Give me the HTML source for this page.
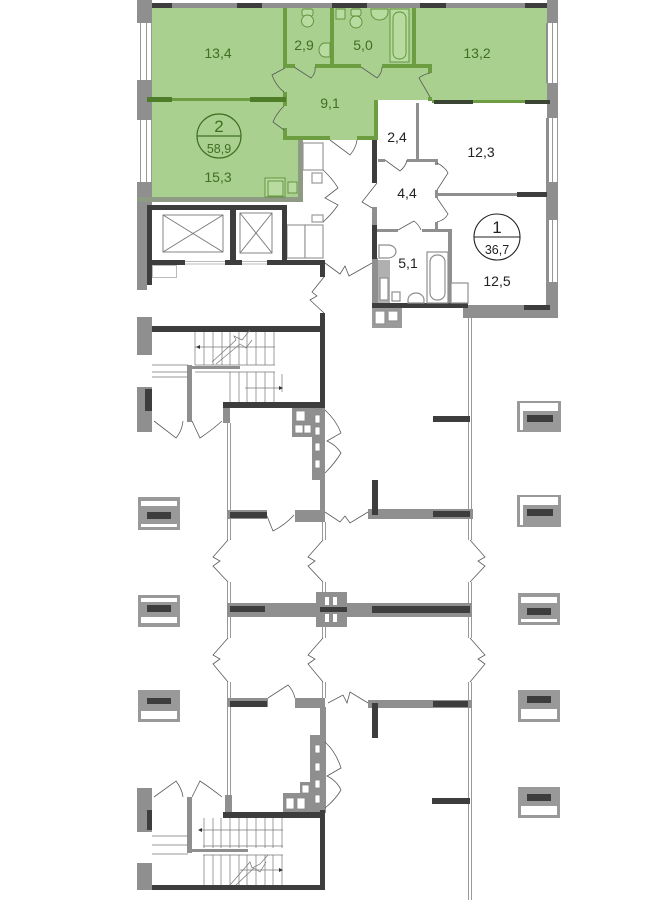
<!DOCTYPE html>
<html><head><meta charset="utf-8">
<style>
html,body{margin:0;padding:0;background:#fff;}
svg{display:block;}
text{font-family:"Liberation Sans",Arial,sans-serif;}
</style></head><body>
<svg width="672" height="907" viewBox="0 0 672 907" xmlns="http://www.w3.org/2000/svg">
<rect width="672" height="907" fill="#fff"/>

<!-- ===== Apartment 2 green fill ===== -->
<path fill="#a9d08e" d="M152 8 H547 V100 H378 V140 H298 V197 H152 Z"/>

<!-- top outer wall -->
<rect x="137" y="3" width="416" height="5" fill="#8f8f8f"/>
<g fill="#3d3d3d">
<rect x="147" y="3" width="25" height="5"/><rect x="237" y="3" width="25" height="5"/>
<rect x="332" y="3" width="35" height="5"/><rect x="420" y="3" width="26" height="5"/>
<rect x="525" y="3" width="26" height="5"/>
</g>

<!-- left outer wall apt2 -->
<g fill="#8f8f8f">
<rect x="137" y="0" width="15" height="23"/>
<rect x="137" y="80" width="15" height="40"/>
<rect x="137" y="182" width="15" height="25"/>
<rect x="137" y="205" width="10" height="85"/>
</g>
<g stroke="#999" stroke-width="1">
<line x1="140.5" y1="23" x2="140.5" y2="80"/><line x1="146.5" y1="23" x2="146.5" y2="80"/>
<line x1="140.5" y1="120" x2="140.5" y2="182"/><line x1="146.5" y1="120" x2="146.5" y2="182"/>
<line x1="151.5" y1="23" x2="151.5" y2="80"/><line x1="151.5" y1="120" x2="151.5" y2="182"/>
</g>

<!-- right outer wall -->
<g fill="#8f8f8f">
<rect x="547" y="0" width="11" height="23"/>
<rect x="547" y="83" width="11" height="35"/>
<rect x="546" y="182" width="12" height="38"/>
<rect x="546" y="282" width="12" height="36"/>
<rect x="546" y="118" width="3" height="64"/>
<rect x="546" y="220" width="3" height="62"/>
<rect x="546" y="23" width="2" height="60"/>
</g>
<g stroke="#999" stroke-width="1">
<line x1="552.5" y1="23" x2="552.5" y2="83"/><line x1="557.5" y1="23" x2="557.5" y2="83"/>
<line x1="552.5" y1="118" x2="552.5" y2="182"/><line x1="557.5" y1="118" x2="557.5" y2="182"/>
<line x1="552.5" y1="220" x2="552.5" y2="282"/><line x1="557.5" y1="220" x2="557.5" y2="282"/>
</g>

<!-- green interior walls -->
<g fill="#6c9d41">
<rect x="152" y="98" width="131" height="3"/>
<rect x="283" y="8" width="4" height="58"/>
<rect x="330" y="8" width="4" height="57"/>
<rect x="412" y="8" width="4" height="57"/>
<rect x="283" y="64" width="12" height="4"/><rect x="315" y="64" width="46" height="4"/><rect x="382" y="64" width="50" height="4"/>
<rect x="428" y="64" width="4" height="9"/><rect x="428" y="97" width="4" height="4"/>
<rect x="432" y="100" width="115" height="3"/>
<rect x="283" y="66" width="4" height="2"/><rect x="283" y="92" width="4" height="14"/><rect x="283" y="128" width="4" height="12"/>
<rect x="283" y="136" width="47" height="4"/><rect x="357" y="136" width="21" height="4"/>
<rect x="374" y="100" width="4" height="40"/>
</g>
<g fill="#4d7d28">
<rect x="147" y="97" width="25" height="5"/><rect x="250" y="97" width="36" height="5"/>
</g>
<g fill="#3a4633">
<rect x="434" y="100" width="39" height="4"/><rect x="525" y="100" width="25" height="4"/>
</g>
<!-- 15.3 right wall & bottom -->
<rect x="298" y="140" width="5" height="62" fill="#8f9a85"/>
<rect x="137" y="197" width="166" height="5" fill="#8f9a85"/>

<!-- fixtures apt2 -->
<g fill="#b8db9f" stroke="#5f8e3a" stroke-width="0.9">
<rect x="302" y="9" width="11" height="7" rx="2"/><ellipse cx="307.5" cy="21" rx="6" ry="6"/>
<path d="M330 43 h-5 a6 7 0 0 0 0 14 h5 z"/>
<rect x="336" y="9" width="9" height="10"/>
<rect x="351" y="9" width="10" height="7" rx="2"/><ellipse cx="356" cy="22" rx="6" ry="6"/>
<path d="M371 9 h17 v3 a8.5 8 0 0 1 -17 0 z"/>
<rect x="390" y="9" width="19" height="53"/><rect x="393" y="12" width="13" height="47" rx="6"/>
<rect x="265" y="178" width="20" height="19"/><rect x="268" y="181" width="15" height="15"/>
<rect x="288" y="182" width="9" height="11"/>
</g>

<!-- circle 2 -->
<g fill="none" stroke="#3f6f22" stroke-width="1.2">
<circle cx="219" cy="136" r="22"/><line x1="197" y1="136" x2="241" y2="136"/>
</g>

<!-- doors apt2 -->
<g fill="none" stroke="#5a5a5a" stroke-width="0.8">
<path d="M294 67 L311 78 Q316 73 315 67"/>
<path d="M361 67 L377 78 Q382 73 382 67"/>
<path d="M285 68 L272 75 Q276 86 284 92"/>
<path d="M284 106 Q276 114 273 122 L284 130"/>
<path d="M430 73 Q422 75 419 78 L430 97"/>
<path d="M330 140 L350 155 Q356 148 357 140"/>
</g>

<!-- ===== Apartment 1 ===== -->
<g fill="#8f8f8f">
<rect x="416" y="103" width="3" height="59"/>
<rect x="378" y="159" width="7" height="3"/><rect x="407" y="159" width="31" height="3"/>
<rect x="435" y="159" width="3" height="6"/><rect x="435" y="190" width="3" height="8"/><rect x="435" y="222" width="3" height="10"/>
<rect x="437" y="193" width="110" height="3"/>
<rect x="372" y="207" width="5" height="20"/>
<rect x="377" y="229" width="21" height="3"/><rect x="422" y="229" width="30" height="3"/>
<rect x="448" y="229" width="4" height="76"/>
<rect x="463" y="305" width="89" height="13"/>
<rect x="372" y="258" width="6" height="47"/>
</g>
<g fill="#3d3d3d">
<rect x="517" y="192" width="30" height="5"/>
<rect x="372" y="140" width="5" height="43"/>
<rect x="372" y="225" width="5" height="34"/>
<rect x="372" y="303" width="96" height="5"/>
<rect x="524" y="305" width="26" height="5"/>
</g>
<!-- bathroom 5.1 fixtures -->
<g fill="#fff" stroke="#8f8f8f" stroke-width="1.2">
<rect x="378" y="260" width="12" height="43" fill="#b0b0b0" stroke="none"/>
<rect x="380" y="278" width="8" height="22"/>
<rect x="392" y="292" width="8" height="9"/>
<path d="M379 245 h9 a8 6.5 0 0 1 0 13 h-9 z"/>
<rect x="427" y="252" width="21" height="51"/><rect x="430" y="255" width="15" height="45" rx="7"/>
<path d="M408 303 v-3 a8 7 0 0 1 16 0 v3 z"/>
<rect x="451" y="283" width="17" height="20"/>
<rect x="372" y="308" width="30" height="20" fill="#9a9a9a" stroke="none"/>
<rect x="375" y="311" width="10" height="13"/><rect x="388" y="311" width="10" height="10"/>
</g>
<!-- circle 1 -->
<g fill="none" stroke="#222" stroke-width="1.1">
<circle cx="497" cy="237" r="23"/><line x1="474" y1="237" x2="520" y2="237"/>
</g>
<!-- doors apt1 -->
<g fill="none" stroke="#5a5a5a" stroke-width="0.8">
<path d="M385 160 L400 171 Q406 166 407 160"/>
<path d="M437 163 Q445 167 448 173 L437 190"/>
<path d="M437 198 L448 214 Q445 220 437 222"/>
<path d="M377 183 L362 202 L372 208"/>
<path d="M398 230 L414 221 Q419 225 421 230"/>
</g>

<!-- ===== corridor upper ===== -->
<g fill="#fff" stroke="#999" stroke-width="1.2">
<rect x="303" y="143" width="20" height="27"/>
<rect x="312" y="173" width="10" height="10"/>
<rect x="312" y="215" width="11" height="7"/>
<rect x="287" y="225" width="18" height="33"/><rect x="305" y="225" width="18" height="33"/>
</g>
<!-- elevators -->
<g fill="#3d3d3d">
<rect x="147" y="205" width="140" height="5"/>
<rect x="147" y="205" width="5" height="80"/>
<rect x="230" y="205" width="6" height="60"/>
<rect x="282" y="205" width="5" height="60"/>
<rect x="147" y="260" width="38" height="5"/>
<rect x="225" y="260" width="17" height="5"/>
<rect x="267" y="260" width="58" height="5"/>
<rect x="320" y="260" width="5" height="17"/>
<rect x="320" y="313" width="5" height="17"/>
</g>
<g stroke="#bbb" stroke-width="1" fill="none">
<line x1="185" y1="261.5" x2="225" y2="261.5"/><line x1="185" y1="264" x2="225" y2="264"/>
<line x1="242" y1="261.5" x2="267" y2="261.5"/><line x1="242" y1="264" x2="267" y2="264"/>
<rect x="152.5" y="265.5" width="24" height="12"/>
</g>
<g fill="none" stroke="#777" stroke-width="0.9">
<rect x="163" y="215" width="60" height="37"/><path d="M163 215 L223 252 M223 215 L163 252"/>
<rect x="240" y="213" width="32" height="40"/><path d="M240 213 L272 253 M272 213 L240 253"/>
</g>
<g fill="none" stroke="#5a5a5a" stroke-width="0.8">
<path d="M323 170 Q332 178 338 188 L325 198 L338 205 Q332 214 323 222"/>
<path d="M325 263 L340 274 L345 266 L349 276 L372 263"/>
<path d="M324 277 L312 292 L317 296 L310 300 L324 313"/>
</g>

<!-- ===== stair block upper ===== -->
<g fill="#8f8f8f">
<rect x="137" y="317" width="15" height="38"/>
<rect x="137" y="387" width="15" height="45"/>
<rect x="187" y="365" width="5" height="57"/>
<rect x="188" y="366" width="52" height="3"/>
<rect x="223" y="403" width="7" height="20"/>
<rect x="292" y="408" width="20" height="29"/>
<rect x="312" y="408" width="13" height="72"/>
<rect x="320" y="480" width="5" height="35"/>
</g>
<g fill="#3d3d3d">
<rect x="152" y="326" width="173" height="6"/>
<rect x="320" y="315" width="5" height="93"/>
<rect x="223" y="402" width="102" height="6"/>
<rect x="145" y="389" width="7" height="22"/>
</g>
<g fill="#fff" stroke="#888" stroke-width="0.8">
<rect x="296" y="411" width="9" height="10"/>
<rect x="295" y="425" width="8" height="8"/><rect x="304" y="425" width="7" height="8"/>
<rect x="315" y="415" width="5" height="8"/><rect x="315" y="427" width="5" height="8"/>
<rect x="315" y="443" width="5" height="8"/><rect x="315" y="460" width="5" height="8"/>
</g>
<g stroke="#777" stroke-width="0.7" fill="none">
<path d="M195 332 V365 M204 332 V365 M213 332 V365 M222 332 V365 M230 332 V365 M239 332 V365 M247 332 V365 M256 332 V365 M265 332 V365 M274 332 V365"/>
<path d="M230 372 V402 M239 372 V402 M247 372 V402 M256 372 V402 M265 372 V402 M274 372 V402 M282 374 V392"/>
<path d="M195 347 H275 M195 365 H275 M195 372 H275"/>
<path d="M212 362 L236 340 L234 336 L242 340 L250 330 M216 364 L240 344 L246 348 L252 340"/>
<path d="M245 388 H280"/>
<path d="M152 365 H188 M152 372 H188 M152 377 H188"/>
</g>
<path d="M196 347 l4 -2 v4 z M283 388 l-4 -2 v4 z" fill="#333"/>
<g fill="none" stroke="#5a5a5a" stroke-width="0.8">
<path d="M154 421 L176 438 Q182 431 183 421"/>
<path d="M192 421 L200 438 Q212 430 222 421"/>
<path d="M325 410 Q336 420 341 433 L327 441 Q336 445 341 453 Q335 463 325 473"/>
</g>

<!-- ===== vertical double lines ===== -->
<g stroke="#999" stroke-width="1" fill="none">
<path d="M227.5 423 V540 M230.5 423 V540 M227.5 582 V638 M230.5 582 V638 M227.5 682 V812 M230.5 682 V812"/>
<path d="M322.5 522 V540 M325.5 522 V540 M322.5 582 V592 M325.5 582 V592 M322.5 627 V638 M325.5 627 V638 M322.5 682 V698 M325.5 682 V698"/>
<path d="M468.5 318 V540 M471.5 318 V540 M468.5 582 V638 M471.5 582 V638 M468.5 682 V900 M471.5 682 V900"/>
</g>

<!-- middle walls -->
<g fill="#8f8f8f">
<rect x="227" y="510" width="40" height="9"/>
<rect x="295" y="510" width="30" height="12"/>
<rect x="368" y="509" width="105" height="10"/>
<rect x="227" y="603" width="245" height="14"/>
<rect x="316" y="592" width="31" height="35"/>
<rect x="227" y="698" width="41" height="9"/>
<rect x="295" y="698" width="30" height="10"/>
<rect x="368" y="700" width="104" height="8"/>
<rect x="320" y="707" width="6" height="30"/>
<rect x="310" y="735" width="16" height="78"/>
<rect x="283" y="793" width="29" height="20"/>
<rect x="300" y="782" width="12" height="12"/>
<rect x="225" y="795" width="7" height="20"/>
</g>
<g fill="#3d3d3d">
<rect x="433" y="416" width="37" height="6"/>
<rect x="372" y="480" width="6" height="35"/>
<rect x="433" y="511" width="37" height="6"/>
<rect x="230" y="512" width="37" height="6"/>
<rect x="230" y="606" width="35" height="6"/>
<rect x="320" y="607" width="27" height="5"/>
<rect x="372" y="606" width="98" height="7"/>
<rect x="230" y="701" width="37" height="6"/>
<rect x="433" y="701" width="35" height="6"/>
<rect x="372" y="703" width="6" height="35"/>
<rect x="432" y="798" width="38" height="6"/>
</g>
<g fill="#fff">
<rect x="325" y="597" width="4" height="8"/><rect x="333" y="597" width="4" height="8"/>
<rect x="325" y="614" width="4" height="8"/><rect x="333" y="614" width="4" height="8"/>
</g>
<g fill="none" stroke="#5a5a5a" stroke-width="0.8">
<path d="M267 516 L273 531 Q285 525 294 515"/>
<path d="M325 512 L340 522 L345 516 L350 523 L368 512"/>
<path d="M228 540 L213 557 L220 561 L213 566 L228 582"/>
<path d="M323 540 L308 557 L315 561 L308 566 L323 582"/>
<path d="M470 540 L485 557 L478 561 L485 566 L470 582"/>
<path d="M228 638 L213 655 L220 659 L213 664 L228 682"/>
<path d="M323 638 L308 655 L315 659 L308 664 L323 682"/>
<path d="M470 638 L485 655 L478 659 L485 664 L470 682"/>
<path d="M268 698 L288 685 Q293 690 295 698"/>
<path d="M328 703 L343 695 L347 703 L350 692 L368 703"/>
<path d="M325 742 Q336 752 341 768 L327 776 Q337 781 341 790 Q335 800 325 808"/>
<path d="M154 797 L176 781 Q182 789 183 797"/>
<path d="M192 797 L200 781 Q212 789 222 797"/>
</g>

<!-- ===== stair block lower ===== -->
<g fill="#8f8f8f">
<rect x="137" y="788" width="15" height="44"/>
<rect x="137" y="863" width="15" height="27"/>
<rect x="187" y="797" width="5" height="56"/>
<rect x="188" y="849" width="60" height="3"/>
</g>
<g fill="#3d3d3d">
<rect x="223" y="812" width="102" height="6"/>
<rect x="320" y="810" width="5" height="80"/>
<rect x="152" y="885" width="173" height="5"/>
<rect x="147" y="810" width="5" height="20"/>
</g>
<g fill="#fff" stroke="#888" stroke-width="0.8">
<rect x="286" y="798" width="8" height="11"/><rect x="297" y="798" width="8" height="11"/>
<rect x="302" y="785" width="7" height="8"/>
<rect x="315" y="745" width="5" height="8"/><rect x="315" y="763" width="5" height="8"/>
<rect x="315" y="780" width="5" height="8"/><rect x="315" y="795" width="5" height="8"/>
</g>
<g stroke="#777" stroke-width="0.7" fill="none">
<path d="M204 818 V848 M213 818 V848 M221 818 V848 M230 818 V848 M239 818 V848 M247 818 V848 M256 818 V848 M265 818 V848 M273 818 V848 M282 818 V848"/>
<path d="M204 855 V885 M213 855 V885 M221 855 V885 M230 855 V885 M239 855 V885 M247 855 V885 M256 855 V885 M265 855 V885 M273 855 V885 M282 855 V885"/>
<path d="M200 830 H283 M203 846 H283 M203 855 H283"/>
<path d="M230 885 L250 862 L252 868 L260 864 L268 855 M236 885 L254 868 L260 872 L266 862"/>
<path d="M240 870 H281"/>
<path d="M152 836 H188 M152 845 H188 M152 854 H188"/>
</g>
<path d="M198 830 l4 -2 v4 z M283 870 l-4 -2 v4 z" fill="#333"/>

<!-- ===== window boxes ===== -->
<g>
<rect x="517" y="401" width="44" height="31" fill="#999"/><rect x="520" y="403" width="38" height="27" fill="#fff"/><rect x="523" y="411" width="35" height="19" fill="#999"/><rect x="527" y="415" width="26" height="7" fill="#3d3d3d"/>
<rect x="517" y="495" width="44" height="32" fill="#999"/><rect x="520" y="497" width="38" height="28" fill="#fff"/><rect x="523" y="505" width="35" height="20" fill="#999"/><rect x="527" y="509" width="26" height="7" fill="#3d3d3d"/>
<rect x="518" y="593" width="42" height="32" fill="#999"/><rect x="521" y="597" width="36" height="6" fill="#fff"/><rect x="521" y="619" width="36" height="3" fill="#fff"/><rect x="527" y="608" width="24" height="7" fill="#3d3d3d"/>
<rect x="518" y="690" width="42" height="32" fill="#999"/><rect x="527" y="696" width="24" height="7" fill="#3d3d3d"/><rect x="521" y="709" width="36" height="10" fill="#fff"/>
<rect x="518" y="787" width="42" height="31" fill="#999"/><rect x="527" y="794" width="24" height="7" fill="#3d3d3d"/><rect x="521" y="806" width="36" height="9" fill="#fff"/>
<rect x="138" y="497" width="42" height="33" fill="#999"/><rect x="141" y="501" width="36" height="5" fill="#fff"/><rect x="147" y="512" width="24" height="7" fill="#3d3d3d"/><rect x="141" y="524" width="36" height="3" fill="#fff"/>
<rect x="138" y="595" width="42" height="32" fill="#999"/><rect x="141" y="598" width="36" height="4" fill="#fff"/><rect x="147" y="605" width="24" height="7" fill="#3d3d3d"/><rect x="141" y="617" width="36" height="6" fill="#fff"/>
<rect x="138" y="690" width="42" height="32" fill="#999"/><rect x="147" y="698" width="24" height="6" fill="#3d3d3d"/><rect x="141" y="711" width="36" height="8" fill="#fff"/>
</g>

<!-- ===== labels ===== -->
<g font-size="14" text-anchor="middle" fill="#3f6f22">
<text x="218" y="58">13,4</text>
<text x="304" y="50">2,9</text>
<text x="363" y="50">5,0</text>
<text x="477" y="58">13,2</text>
<text x="330" y="108">9,1</text>
<text x="218" y="182">15,3</text>
<text x="219" y="132" font-size="17">2</text>
<text x="219" y="153" font-size="12.5">58,9</text>
</g>
<g font-size="14" text-anchor="middle" fill="#222">
<text x="397" y="142">2,4</text>
<text x="481" y="157">12,3</text>
<text x="407" y="198">4,4</text>
<text x="408" y="268">5,1</text>
<text x="497" y="286">12,5</text>
<text x="497" y="233" font-size="17">1</text>
<text x="497" y="254" font-size="12.5">36,7</text>
</g>
</svg>
</body></html>
